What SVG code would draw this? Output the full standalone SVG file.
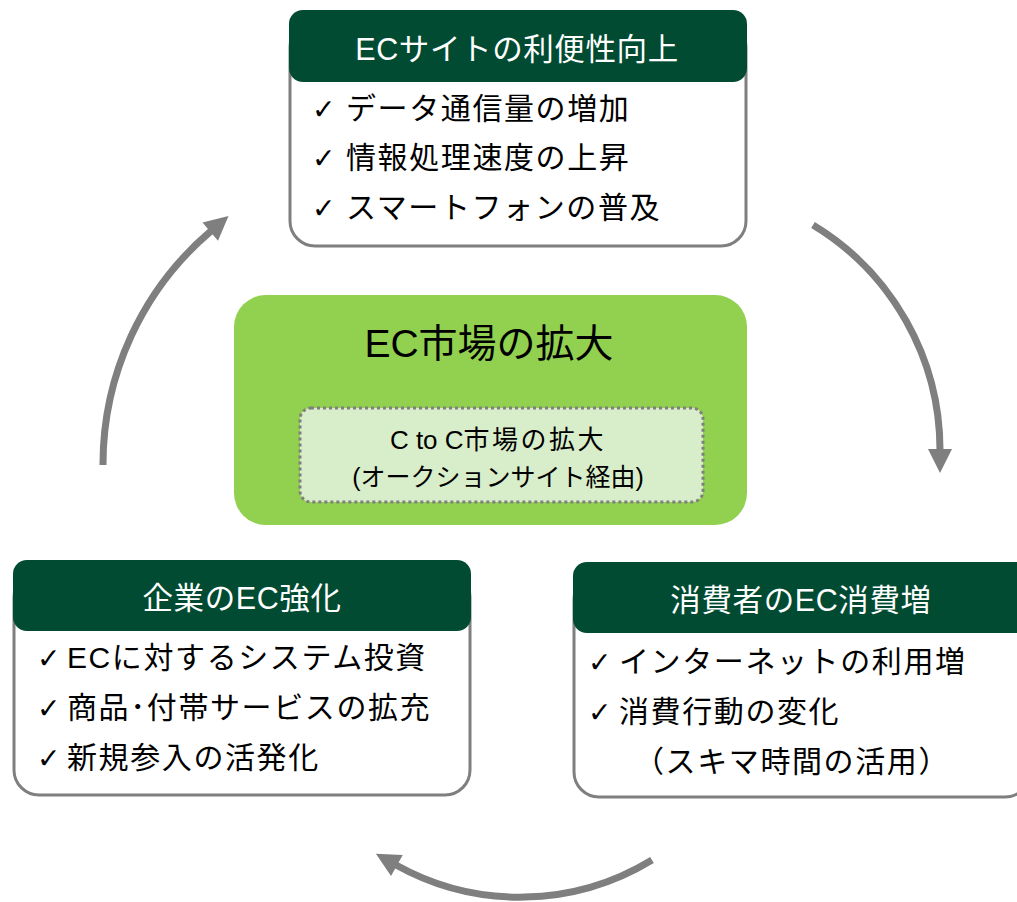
<svg xmlns="http://www.w3.org/2000/svg" width="1017" height="902" viewBox="0 0 1017 902">
<defs>
<style>
.body{fill:#ffffff;stroke:#7f7f7f;stroke-width:3}
.head{fill:#004b32}
.ht{fill:#ffffff;font-family:"Liberation Sans","Noto Sans CJK JP",sans-serif;font-size:30.5px;letter-spacing:0.6px;text-anchor:middle}
.li{fill:#000000;font-family:"Liberation Sans","Noto Sans CJK JP",sans-serif;font-size:30px;letter-spacing:1.6px}
.ck{font-family:"DejaVu Sans",sans-serif;font-size:28px;letter-spacing:0}
.arc{fill:none;stroke:#7f7f7f;stroke-width:7}
.ct{font-family:"Liberation Sans","Noto Sans CJK JP",sans-serif;fill:#000000;text-anchor:middle}
</style>
<marker id="ah" markerUnits="userSpaceOnUse" markerWidth="26" markerHeight="26" refX="0" refY="12" orient="auto" overflow="visible">
<path d="M-1,0 L23,12 L-1,24 Z" fill="#7f7f7f"/>
</marker>
</defs>

<g id="connectors">
<path class="arc" d="M103,465 A306,306 0 0 1 211,231" marker-end="url(#ah)"/>
<path class="arc" d="M813,225 A263,263 0 0 1 940,450" marker-end="url(#ah)"/>
<path class="arc" d="M652,860 A254,254 0 0 1 396,865" marker-end="url(#ah)"/>
</g>

<g id="center">
<rect x="234" y="295" width="513" height="230" rx="32" fill="#92d050"/>
<text class="ct" x="489" y="357" font-size="39">EC市場の拡大</text>
</g>
<g id="c2c">
<rect x="300" y="408" width="403" height="94" rx="11" fill="#d8edc9" stroke="#7f7f7f" stroke-width="3" stroke-dasharray="3,3"/>
<text class="ct" x="498" y="449" font-size="26">C to C<tspan letter-spacing="2.5">市場の拡大</tspan></text>
<text class="ct" x="498" y="486" font-size="25">(オークションサイト経由)</text>
</g>

<g id="top">
<rect class="body" x="290" y="22" width="456" height="224" rx="25"/>
<rect class="head" x="289" y="10" width="458" height="72" rx="14"/>
<text class="ht" x="517" y="60">ECサイトの利便性向上</text>
<text class="li" x="312" y="119"><tspan class="ck">✓</tspan><tspan x="346">データ通信量の増加</tspan></text>
<text class="li" x="312" y="168"><tspan class="ck">✓</tspan><tspan x="346">情報処理速度の上昇</tspan></text>
<text class="li" x="312" y="218"><tspan class="ck">✓</tspan><tspan x="346">スマートフォンの普及</tspan></text>
</g>

<g id="left">
<rect class="body" x="14" y="572" width="456" height="223" rx="25"/>
<rect class="head" x="13" y="560" width="458" height="71" rx="14"/>
<text class="ht" x="242" y="609">企業のEC強化</text>
<text class="li" x="37" y="668"><tspan class="ck">✓</tspan><tspan x="67">ECに対するシステム投資</tspan></text>
<text class="li" x="37" y="718"><tspan class="ck">✓</tspan><tspan x="67">商品･付帯サービスの拡充</tspan></text>
<text class="li" x="37" y="768"><tspan class="ck">✓</tspan><tspan x="67">新規参入の活発化</tspan></text>
</g>

<g id="right">
<rect class="body" x="574" y="574" width="456" height="223" rx="25"/>
<rect class="head" x="573" y="562" width="458" height="71" rx="14"/>
<text class="ht" x="801" y="611">消費者のEC消費増</text>
<text class="li" x="588" y="672"><tspan class="ck">✓</tspan><tspan x="619">インターネットの利用増</tspan></text>
<text class="li" x="588" y="722"><tspan class="ck">✓</tspan><tspan x="619">消費行動の変化</tspan></text>
<text class="li" x="634" y="772">（スキマ時間の活用）</text>
</g>
</svg>
